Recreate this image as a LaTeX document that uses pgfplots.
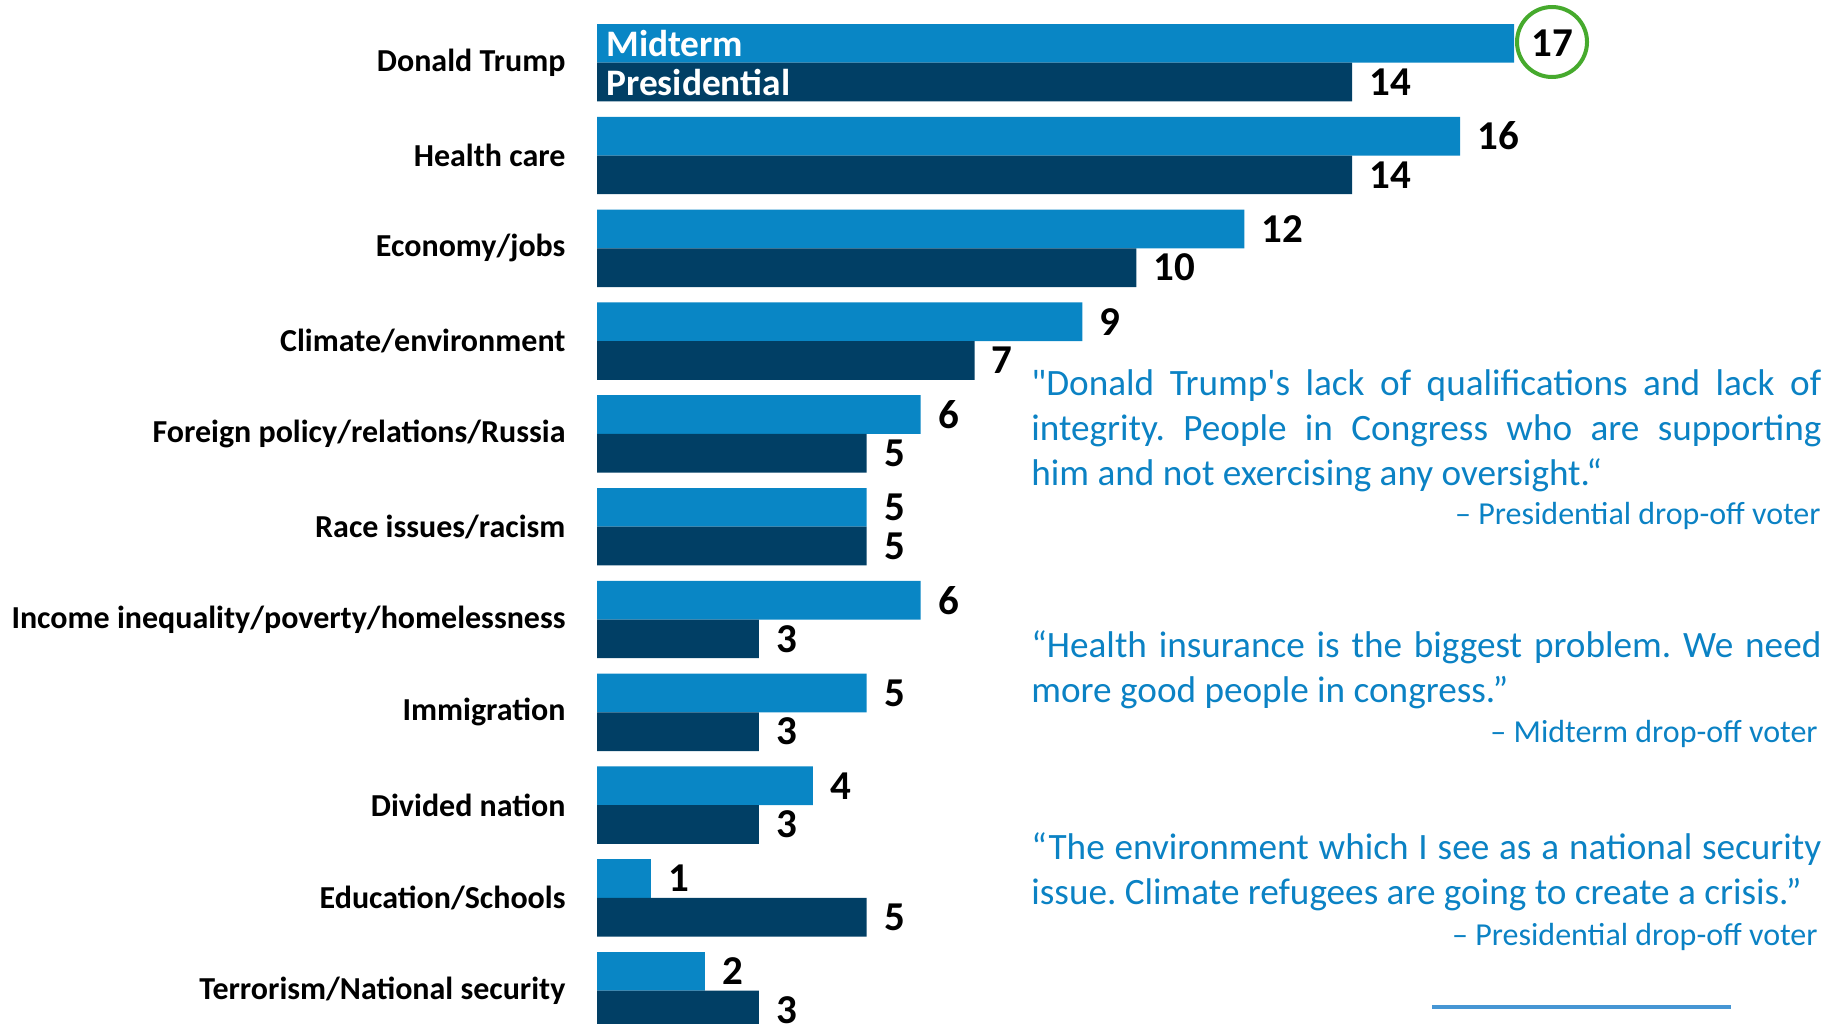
\documentclass[border=0pt]{standalone}
\usepackage{fontspec}
\setmainfont{Carlito}
\newfontfamily\qfont{Carlito}[Ligatures=ResetAll]
\usepackage{pgfplots}
\pgfplotsset{compat=1.18}
\definecolor{midblue}{RGB}{9,134,197}
\definecolor{presblue}{RGB}{1,63,101}
\definecolor{quoteblue}{RGB}{11,130,196}
\definecolor{ringgreen}{RGB}{70,170,45}
\definecolor{rule}{RGB}{70,150,212}
\begin{document}
\frenchspacing
\begin{tikzpicture}[x=0.5pt,y=-0.5pt]
\clip (0,0) rectangle (1839,1023);
\begin{axis}[
  at={(298.5pt,-8.15pt)}, anchor=north west,
  scale only axis, width=458.5pt, height=510.4pt,
  xbar, bar width=19.35pt,
  xmin=0, xmax=17, ymin=-0.5, ymax=10.5,
  axis line style={draw=none}, tick style={draw=none},
  xtick=\empty,
  ytick={0,1,2,3,4,5,6,7,8,9,10},
  yticklabels={Terrorism/National security,Education/Schools,Divided nation,Immigration,Income inequality/poverty/homelessness,Race issues/racism,Foreign policy/relations/Russia,Climate/environment,Economy/jobs,Health care,Donald Trump},
  yticklabel style={font=\fontsize{16pt}{18pt}\selectfont\bfseries, inner sep=0pt, anchor=east, xshift=-11.3pt},
  /pgf/number format/assume math mode=true,
  nodes near coords,
  nodes near coords style={font=\fontsize{20.5pt}{22pt}\selectfont\bfseries, black, inner sep=0pt, anchor=west, xshift=8.5pt},
  clip=false,
]
\addplot[fill=midblue, draw=none, bar shift=9.675pt] coordinates {
(2,0) (1,1) (4,2) (5,3) (6,4) (5,5) (6,6) (9,7) (12,8) (16,9) (17,10)};
\addplot[fill=presblue, draw=none, bar shift=-9.675pt] coordinates {
(3,0) (5,1) (3,2) (3,3) (3,4) (5,5) (5,6) (7,7) (10,8) (14,9) (14,10)};
\node[anchor=west, text=white, font=\fontsize{18.7pt}{20pt}\selectfont\bfseries, inner sep=0pt, xshift=4.5pt, yshift=9.675pt] at (axis cs:0,10) {Midterm};
\node[anchor=west, text=white, font=\fontsize{18.7pt}{20pt}\selectfont\bfseries, inner sep=0pt, xshift=4.5pt, yshift=-9.675pt] at (axis cs:0,10) {Presidential};
\end{axis}
\draw[ringgreen, line width=2pt] (1552,42) circle[radius=17.5pt];
\node[anchor=base west, inner sep=0pt, text=quoteblue] at (1031,395) {\parbox[t]{395pt}{\qfont\fontsize{18.6pt}{22.5pt}\selectfont "Donald Trump's lack of qualifications and lack of\linebreak integrity. People in Congress who are supporting\linebreak him and not exercising any oversight.“}};
\node[anchor=base east, inner sep=0pt, text=quoteblue, font=\qfont\fontsize{16pt}{18pt}\selectfont] at (1821,524) {– Presidential drop-off voter};
\node[anchor=base west, inner sep=0pt, text=quoteblue] at (1031,657) {\parbox[t]{395pt}{\qfont\fontsize{18.6pt}{22.5pt}\selectfont “Health insurance is the biggest problem. We need\linebreak more good people in congress.”}};
\node[anchor=base east, inner sep=0pt, text=quoteblue, font=\qfont\fontsize{16pt}{18pt}\selectfont] at (1818,742) {– Midterm drop-off voter};
\node[anchor=base west, inner sep=0pt, text=quoteblue] at (1031,859) {\parbox[t]{395pt}{\qfont\fontsize{18.6pt}{22.5pt}\selectfont “The environment which I see as a national security\linebreak issue. Climate refugees are going to create a crisis.”}};
\node[anchor=base east, inner sep=0pt, text=quoteblue, font=\qfont\fontsize{16pt}{18pt}\selectfont] at (1818,945) {– Presidential drop-off voter};
\draw[rule, line width=2pt] (1432,1007) -- (1731,1007);
\end{tikzpicture}
\end{document}
